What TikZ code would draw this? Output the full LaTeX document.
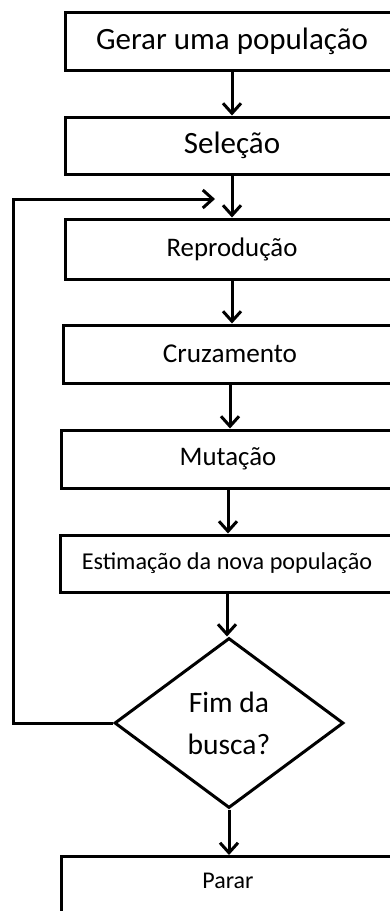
\documentclass[tikz,border=0pt]{standalone}
\usepackage{fontspec}
\setmainfont{Carlito}
\usetikzlibrary{arrows.meta,shapes.geometric}
\tikzset{
  box/.style={rectangle, draw, line width=3pt, inner sep=0pt, minimum width=334pt, align=center},
  dec/.style={diamond, draw, line width=3pt, inner sep=0pt, minimum width=229pt, minimum height=170pt, align=center},
  arr/.style={-{Straight Barb[length=10pt,width=18pt,line width=3pt]}, line width=3pt},
}
\newcommand\fs[1]{\fontsize{#1}{#1}\selectfont}
\begin{document}
\begin{tikzpicture}[x=1pt, y=-1pt]
\useasboundingbox (0,0) rectangle (390,911);
\clip (0,0) rectangle (390,911);
% steps
\node[box, minimum height=58pt, font=\fs{31}] (gen) at (232,41) {Gerar uma população};
\node[box, minimum height=57pt, font=\fs{31}] (sel) at (232,145.5) {Seleção};
\node[box, minimum height=60pt, font=\fs{26.8}] (rep) at (232,249) {Reprodução};
\node[box, minimum height=58pt, font=\fs{27.2}] (cru) at (230,354) {Cruzamento};
\node[box, minimum height=58pt, font=\fs{26.8}] (mut) at (228,459) {Mutação};
\node[box, minimum height=57pt, font=\fs{24.2}] (est) at (227,563.5) {Estimação da nova população};
\node[dec, font=\fs{29.5}] (fim) at (229,723) {Fim da\\[12.5pt]busca?};
\node[box, anchor=north, text height=28pt, text depth=60pt, inner ysep=4pt, font=\fs{24}] (stop) at (228,855) {Parar};
% arrows
\draw[arr] (gen.south) -- (gen.south |- sel.north);
\draw[arr] (sel.south) -- (sel.south |- rep.north);
\draw[arr] (rep.south) -- (rep.south |- cru.north);
\draw[arr] (cru.south) -- (cru.south |- mut.north);
\draw[arr] (mut.south) -- (mut.south |- est.north);
\draw[arr] (est.south) -- (est.south |- fim.north);
\draw[arr] (fim.south) -- (fim.south |- stop.north);
% loop back
\coordinate (back) at (215,199);
\coordinate (lft) at (13,0);
\draw[arr] (fim.west) -- (fim.west -| lft) -- (back -| lft) -- (back);
\end{tikzpicture}
\end{document}
